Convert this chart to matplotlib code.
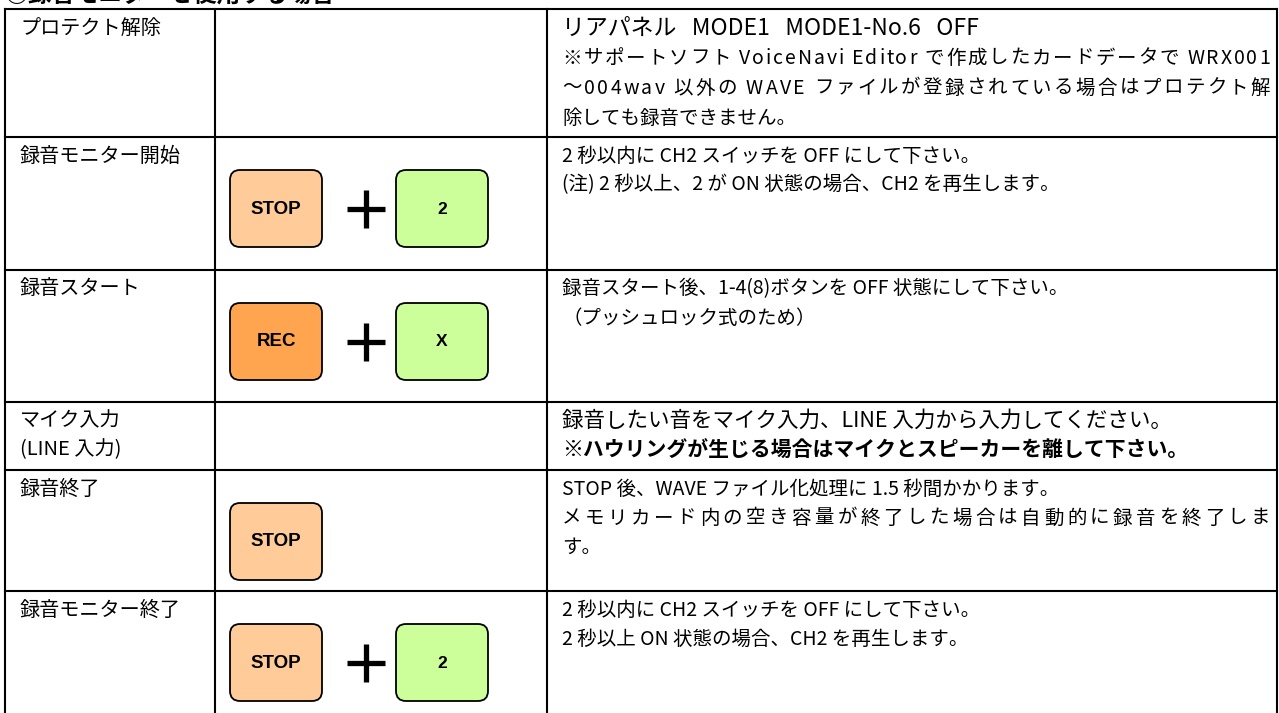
import matplotlib
matplotlib.use("Agg")
import matplotlib.pyplot as plt
from matplotlib.patches import FancyBboxPatch

plt.rcParams['font.family'] = ['Noto Sans CJK JP', 'DejaVu Sans']

# ---- table content ----
HEADER = "○録音モニターを使用する場合"
LABELS = [
    ["プロテクト解除"],
    ["録音モニター開始"],
    ["録音スタート"],
    ["マイク入力", "(LINE 入力)"],
    ["録音終了"],
    ["録音モニター終了"],
]
NOTES = [
    ["リアパネル   MODE1   MODE1-No.6   OFF",
     "※サポートソフト VoiceNavi Editor で作成したカードデータで WRX001",
     "～004wav 以外の WAVE ファイルが登録されている場合はプロテクト解",
     "除しても録音できません。"],
    ["2 秒以内に CH2 スイッチを OFF にして下さい。",
     "(注) 2 秒以上、2 が ON 状態の場合、CH2 を再生します。"],
    ["録音スタート後、1-4(8)ボタンを OFF 状態にして下さい。",
     "（プッシュロック式のため）"],
    ["録音したい音をマイク入力、LINE 入力から入力してください。",
     "※ハウリングが生じる場合はマイクとスピーカーを離して下さい。"],
    ["STOP 後、WAVE ファイル化処理に 1.5 秒間かかります。",
     "メモリカード内の空き容量が終了した場合は自動的に録音を終了しま",
     "す。"],
    ["2 秒以内に CH2 スイッチを OFF にして下さい。",
     "2 秒以上 ON 状態の場合、CH2 を再生します。"],
]
KEYS = [[], ["STOP", "2"], ["REC", "X"], [], ["STOP"], ["STOP", "2"]]
KEY_COLORS = {"STOP": "#FFCC99", "REC": "#FFA54F", "2": "#CCFF99", "X": "#CCFF99"}

# ---- layout (pixels) ----
W, H = 1279, 713
ROW_TOP = [9, 137, 270, 402, 470, 591]
COL_X = [5, 215, 547, 1277]
LINE_GAP = [30, 29, 29, 29, 29, 29]
FIRST = 19
JUSTIFY = {(0, 1), (0, 2), (4, 1)}
BIG = {(0, 0): 16.5, (3, 0): 15.5, (3, 1): 15}
BOLD = {(3, 1)}

fig = plt.figure(figsize=(W / 100, H / 100), dpi=100)
ax = fig.add_axes([0, 0, 1, 1])
ax.set_xlim(0, W)
ax.set_ylim(H, 0)
ax.axis("off")
renderer = fig.canvas.get_renderer()


def text_w(s, **kw):
    t = ax.text(0, 0, s, **kw)
    w = t.get_window_extent(renderer).width
    t.remove()
    return w


def justified(x0, x1, y, s, **kw):
    # spread the characters over x0..x1 (Japanese justified line)
    base = text_w("HH", **kw)
    adv = [text_w("H" + ch + "H", **kw) - base for ch in s]
    extra = (x1 - x0 - sum(adv)) / (len(s) - 1)
    x = x0
    for ch, a in zip(s, adv):
        ax.text(x + a / 2, y, ch, ha="center", va="center", **kw)
        x += a + extra


# grid
for y in ROW_TOP:
    ax.plot([COL_X[0], COL_X[-1]], [y, y], color="black", lw=1.5,
            solid_capstyle="projecting")
for x in COL_X:
    ax.plot([x, x], [ROW_TOP[0], H + 5], color="black", lw=1.5,
            solid_capstyle="projecting")

# header (cut off at the top edge, as in the source page)
ax.text(COL_X[0], 7, HEADER, ha="left", va="bottom", fontsize=17,
        fontweight="bold")

for r, top in enumerate(ROW_TOP):
    for i, s in enumerate(LABELS[r]):
        ax.text(COL_X[0] + 15, top + FIRST + i * LINE_GAP[r], s, ha="left",
                va="center", fontsize=14.5)
    for i, s in enumerate(NOTES[r]):
        kw = dict(fontsize=BIG.get((r, i), 14),
                  fontweight="bold" if (r, i) in BOLD else "normal")
        y = top + FIRST + i * LINE_GAP[r]
        if (r, i) in JUSTIFY:
            justified(COL_X[2] + 15, COL_X[3] - 7, y, s, **kw)
        else:
            ax.text(COL_X[2] + 15, y, s, ha="left", va="center", **kw)

    # key buttons
    keys = KEYS[r]
    for k, name in enumerate(keys):
        bx = 230 + k * 166
        by = top + 33
        ax.add_patch(FancyBboxPatch((bx, by), 92, 77,
                                    boxstyle="round,pad=0,rounding_size=10",
                                    fc=KEY_COLORS[name], ec="black", lw=1.3))
        ax.text(bx + 46, by + 39, name, ha="center", va="center",
                family="Liberation Sans", fontweight="bold",
                fontsize=13.5 if len(name) > 1 else 12.5)
    if len(keys) == 2:
        cx, cy = 366, top + 72
        ax.plot([cx - 19, cx + 19], [cy, cy], color="black", lw=3.8,
                solid_capstyle="butt")
        ax.plot([cx, cx], [cy - 19, cy + 19], color="black", lw=3.8,
                solid_capstyle="butt")

fig.savefig("out.png", dpi=100)
